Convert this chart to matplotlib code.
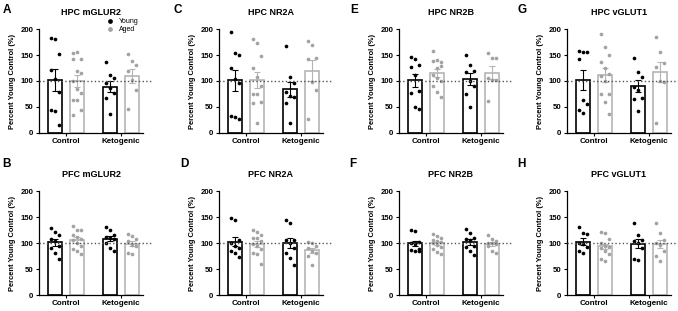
import matplotlib.pyplot as plt
import numpy as np

plt.rcParams['font.family'] = ['Liberation Sans', 'DejaVu Sans']

groups = ['Control', 'Ketogenic']
ages = ['Young', 'Aged']

# each panel: control young, control aged, ketogenic young, ketogenic aged
hpc_mglur2 = [[183, 180, 151, 122, 103, 79, 44, 42, 15],
              [154, 156, 142, 142, 119, 116, 100, 84, 76, 64, 64, 44, 34],
              [136, 111, 105, 96, 86, 76, 68, 37],
              [151, 139, 131, 120, 102, 82, 46]]
hpc_nr2a = [[195, 153, 150, 125, 103, 96, 32, 30, 27],
            [181, 173, 148, 125, 108, 90, 75, 75, 60, 58, 20],
            [168, 108, 96, 78, 72, 70, 58, 20],
            [176, 170, 145, 142, 98, 82, 27]]
hpc_nr2b = [[147, 143, 130, 127, 112, 80, 76, 50, 47],
            [157, 140, 137, 138, 125, 128, 112, 105, 100, 90, 78, 70],
            [150, 130, 120, 117, 100, 90, 75, 50],
            [153, 145, 144, 105, 102, 101, 62]]
hpc_vglut1 = [[157, 155, 155, 143, 63, 55, 45, 38],
              [190, 165, 150, 137, 125, 113, 110, 100, 75, 75, 60, 37],
              [145, 118, 108, 88, 82, 68, 66, 43],
              [185, 155, 135, 127, 100, 98, 20]]
pfc_mglur2 = [[128, 122, 115, 108, 103, 95, 90, 80, 70],
              [133, 125, 125, 115, 112, 108, 105, 100, 95, 88, 85, 78],
              [130, 125, 115, 112, 110, 108, 100, 90, 85],
              [117, 114, 108, 103, 96, 95, 80, 78]]
pfc_nr2a = [[148, 145, 105, 100, 95, 90, 85, 80, 73],
            [125, 122, 115, 110, 110, 103, 98, 95, 88, 80, 78, 60],
            [145, 138, 105, 105, 100, 90, 80, 72, 58],
            [102, 100, 95, 90, 85, 80, 75, 58]]
pfc_nr2b = [[125, 124, 102, 100, 98, 88, 86, 85, 84],
            [117, 113, 110, 106, 104, 102, 100, 97, 92, 88, 82, 79],
            [127, 120, 110, 108, 105, 95, 92, 85, 77],
            [115, 108, 103, 100, 100, 98, 95, 85, 80]]
pfc_vglut1 = [[130, 120, 117, 100, 98, 92, 85, 80],
              [122, 120, 108, 100, 95, 93, 90, 85, 78, 70, 65],
              [138, 115, 105, 103, 100, 90, 70, 68],
              [138, 120, 105, 100, 97, 85, 75, 65]]

panels = [('A', 'HPC mGLUR2', hpc_mglur2), ('C', 'HPC NR2A', hpc_nr2a),
          ('E', 'HPC NR2B', hpc_nr2b), ('G', 'HPC vGLUT1', hpc_vglut1),
          ('B', 'PFC mGLUR2', pfc_mglur2), ('D', 'PFC NR2A', pfc_nr2a),
          ('F', 'PFC NR2B', pfc_nr2b), ('H', 'PFC vGLUT1', pfc_vglut1)]

W, H = 678, 311
fig = plt.figure(figsize=(W / 100, H / 100), dpi=100)

xpos = [0, 1, 2.5, 3.5]
edge = ['black', '#b5b5b5', 'black', '#b5b5b5']
dotc = ['black', '#a3a3a3', 'black', '#a3a3a3']
lefts = [39, 219, 399, 567]
tops = [29, 191]
letter_x = [[3, 174, 350, 518], [2, 180, 349, 517]]

for k, (letter, title, data) in enumerate(panels):
    row, col = k // 4, k % 4
    ax = fig.add_axes([lefts[col] / W, 1 - (tops[row] + 104) / H, 104 / W, 104 / H])
    for i, vals in enumerate(data):
        v = np.array(vals, dtype=float)
        m = v.mean()
        sem = v.std(ddof=1) / np.sqrt(len(v))
        ax.bar(xpos[i], m, width=0.62, facecolor='white', edgecolor=edge[i],
               linewidth=1.2, zorder=2)
        jit = ((np.arange(len(v)) % 3) - 1) * 0.19
        ax.scatter(xpos[i] + jit, v, s=7, color=dotc[i], zorder=4, linewidths=0,
                   label=ages[i % 2] if (k == 0 and i < 2) else None)
        ax.errorbar(xpos[i], m, yerr=sem, color=edge[i], capsize=2.5,
                    elinewidth=0.8, capthick=0.8, zorder=3)
    ax.axhline(100, color='#555555', linestyle=':', linewidth=1, zorder=5,
               xmax=1.08, clip_on=False)
    ax.set_xlim(-0.72, 4.0)
    ax.set_ylim(0, 200)
    ax.set_yticks([0, 50, 100, 150, 200])
    ax.set_xticks([0.5, 3.0])
    ax.set_xticklabels(groups, fontweight='bold', fontsize=5.8)
    ax.tick_params(axis='y', labelsize=5.6, length=2.5, width=0.8, pad=1.5)
    ax.tick_params(axis='x', length=2, width=0.8, pad=1.5)
    for t in ax.get_yticklabels():
        t.set_fontweight('bold')
    ax.spines['top'].set_visible(False)
    ax.spines['right'].set_visible(False)
    ax.spines['left'].set_linewidth(0.9)
    ax.spines['bottom'].set_linewidth(0.9)
    ax.set_ylabel('Percent Young Control (%)', fontsize=5.4, fontweight='bold',
                  labelpad=3)
    ax.set_title(title, fontsize=6.5, fontweight='bold', pad=10)
    fig.text(letter_x[row][col] / W, 1 - (4 if row == 0 else 158) / H, letter,
             fontsize=8.5, fontweight='bold', va='top', ha='left')
    if k == 0:
        ax.legend(loc='upper left', bbox_to_anchor=(0.58, 1.14), frameon=False,
                  fontsize=5, handletextpad=0.3, labelspacing=0.2,
                  borderpad=0, markerscale=1.3)

fig.savefig('out.png', dpi=100)
